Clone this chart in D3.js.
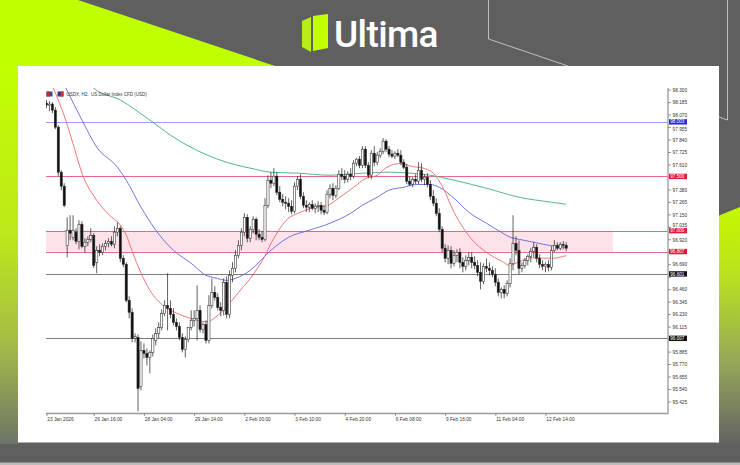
<!DOCTYPE html>
<html><head><meta charset="utf-8">
<script src="https://cdn.jsdelivr.net/npm/d3@7"></script>
<style>body{margin:0;background:#5f5f5f;overflow:hidden}svg{display:block}</style>
</head><body>
<svg id="c" width="740" height="465"></svg>
<script>
// ---------- DATA (USDX H2 candles) ----------
const opens = [98.176,98.157,98.167,98.111,97.954,97.539,97.410,96.865,97.004,96.939,96.986,96.902,97.059,96.856,96.893,96.920,96.957,96.708,96.819,96.800,96.856,96.883,96.902,96.874,96.986,97.022,96.745,96.690,96.357,96.247,96.007,96.016,95.564,95.896,95.868,95.831,95.877,95.988,96.053,96.108,96.237,96.311,96.284,96.228,96.154,96.117,96.016,95.905,95.997,96.108,96.173,96.191,96.265,96.090,96.136,95.988,96.311,96.431,96.385,96.293,96.265,96.524,96.228,96.588,96.653,96.773,96.865,96.986,97.123,96.930,97.013,97.105,96.967,96.939,96.920,97.234,97.465,97.437,97.502,97.354,97.289,97.262,97.253,97.225,97.179,97.410,97.474,97.317,97.234,97.216,97.243,97.206,97.225,97.234,97.188,97.170,97.336,97.391,97.326,97.391,97.520,97.502,97.474,97.520,97.502,97.622,97.659,97.603,97.751,97.603,97.511,97.714,97.631,97.696,97.732,97.825,97.751,97.705,97.687,97.714,97.696,97.631,97.585,97.456,97.428,97.474,97.456,97.557,97.474,97.493,97.428,97.317,97.253,97.160,97.013,96.838,96.745,96.819,96.699,96.773,96.801,96.708,96.671,96.727,96.754,96.708,96.680,96.616,96.533,96.671,96.653,96.634,96.597,96.524,96.431,96.459,96.422,96.514,96.699,96.883,96.819,96.653,96.680,96.727,96.764,96.810,96.847,96.745,96.690,96.671,96.690,96.662,96.819,96.865,96.838,96.874,96.865];
const highs = [98.204,98.194,98.185,98.139,97.973,97.557,97.437,97.123,97.142,97.142,97.022,97.096,97.087,96.930,96.948,97.022,96.976,96.856,96.874,96.883,96.911,96.930,96.948,97.040,97.077,97.040,96.773,96.708,96.394,96.284,96.053,96.044,95.979,95.961,95.914,95.896,96.043,96.099,96.154,96.274,96.357,96.607,96.357,96.284,96.191,96.154,96.053,96.025,96.108,96.265,96.265,96.495,96.311,96.154,96.173,96.404,96.560,96.487,96.422,96.339,96.560,96.579,96.634,96.708,96.819,96.911,97.022,97.161,97.151,97.040,97.133,97.123,97.013,96.995,97.299,97.511,97.539,97.576,97.539,97.410,97.336,97.317,97.299,97.281,97.446,97.502,97.520,97.354,97.281,97.262,97.281,97.253,97.271,97.262,97.234,97.373,97.428,97.437,97.418,97.557,97.576,97.557,97.548,97.576,97.650,97.668,97.687,97.779,97.779,97.631,97.742,97.779,97.723,97.760,97.853,97.843,97.779,97.742,97.732,97.751,97.742,97.659,97.613,97.502,97.493,97.520,97.631,97.622,97.520,97.530,97.465,97.373,97.299,97.206,97.040,96.875,96.865,96.856,96.819,96.828,96.838,96.754,96.773,96.801,96.801,96.764,96.727,96.708,96.699,96.745,96.708,96.671,96.653,96.560,96.477,96.496,96.542,96.745,97.142,96.948,96.911,96.708,96.745,96.782,96.838,96.893,96.874,96.782,96.727,96.708,96.727,96.856,96.911,96.893,96.893,96.902,96.893];
const lows = [98.130,98.102,98.083,97.935,97.502,97.373,97.216,96.754,96.911,96.911,96.875,96.828,96.838,96.800,96.856,96.893,96.653,96.607,96.764,96.773,96.819,96.847,96.856,96.838,96.948,96.708,96.662,96.339,96.191,95.970,95.970,95.333,95.527,95.822,95.757,95.684,95.840,95.942,96.007,96.080,96.210,96.080,96.191,96.127,96.080,95.988,95.877,95.831,95.970,96.080,96.117,95.988,96.062,96.053,95.960,95.960,96.284,96.357,96.265,96.210,96.219,96.191,96.191,96.524,96.616,96.745,96.819,96.948,96.893,96.893,96.976,96.911,96.911,96.893,96.902,97.206,97.391,97.410,97.326,97.262,97.225,97.197,97.170,97.151,97.160,97.373,97.289,97.206,97.170,97.170,97.188,97.160,97.170,97.151,97.142,97.151,97.299,97.281,97.299,97.373,97.465,97.437,97.446,97.465,97.483,97.594,97.576,97.576,97.576,97.483,97.474,97.594,97.603,97.668,97.705,97.723,97.677,97.668,97.659,97.677,97.603,97.567,97.428,97.410,97.400,97.428,97.428,97.446,97.419,97.400,97.281,97.225,97.133,96.986,96.801,96.708,96.690,96.653,96.671,96.708,96.653,96.616,96.634,96.680,96.653,96.644,96.579,96.459,96.505,96.616,96.588,96.570,96.487,96.394,96.376,96.376,96.394,96.477,96.634,96.773,96.597,96.616,96.653,96.680,96.708,96.754,96.708,96.653,96.634,96.616,96.625,96.634,96.801,96.819,96.819,96.828,96.810];
const closes = [98.157,98.167,98.111,97.954,97.539,97.410,97.234,97.004,96.976,97.004,96.902,97.059,96.856,96.893,96.920,96.957,96.680,96.819,96.800,96.856,96.883,96.902,96.874,96.986,97.022,96.745,96.690,96.357,96.247,96.007,96.025,95.545,95.896,95.868,95.831,95.877,96.007,96.053,96.108,96.237,96.311,96.284,96.228,96.154,96.117,96.016,95.905,95.997,96.108,96.173,96.191,96.265,96.090,96.136,95.988,96.311,96.431,96.385,96.293,96.265,96.524,96.228,96.588,96.653,96.773,96.865,96.986,97.123,96.930,97.013,97.105,96.967,96.939,96.920,97.234,97.465,97.437,97.502,97.354,97.289,97.262,97.253,97.225,97.179,97.410,97.474,97.317,97.234,97.216,97.243,97.206,97.225,97.234,97.188,97.170,97.336,97.391,97.326,97.391,97.520,97.502,97.474,97.520,97.502,97.622,97.659,97.603,97.751,97.603,97.511,97.714,97.631,97.696,97.732,97.825,97.751,97.705,97.687,97.714,97.696,97.631,97.585,97.456,97.428,97.474,97.456,97.557,97.474,97.493,97.428,97.317,97.253,97.160,97.013,96.838,96.745,96.819,96.699,96.773,96.801,96.708,96.671,96.727,96.754,96.708,96.680,96.616,96.533,96.671,96.653,96.634,96.597,96.524,96.431,96.459,96.422,96.514,96.699,96.883,96.819,96.653,96.680,96.727,96.764,96.810,96.847,96.745,96.690,96.671,96.690,96.662,96.819,96.865,96.838,96.874,96.865,96.838];

// moving averages as [bar index, value]
const maFast = [[1,98.40],[3,98.27],[6,98.06],[9,97.80],[12,97.53],[17,97.28],[21,97.15],[25,97.05],[27,96.96],[29,96.81],[32,96.61],[35,96.45],[40,96.30],[44,96.24],[49,96.19],[54,96.16],[60,96.27],[65,96.43],[69,96.56],[73,96.72],[77,96.93],[81,97.09],[86,97.17],[90,97.21],[95,97.23],[99,97.30],[104,97.40],[108,97.48],[112,97.51],[115,97.58],[120,97.62],[124,97.59],[127,97.58],[131,97.53],[134,97.41],[138,97.17],[141,97.03],[144,96.92],[149,96.80],[154,96.72],[157,96.68],[159,96.70],[164,96.75],[171,96.745],[176,96.77]];
const maMid = [[5,98.40],[7,98.29],[12,98.02],[17,97.77],[24,97.585],[27,97.465],[32,97.216],[37,97.004],[43,96.819],[49,96.699],[54,96.588],[57,96.565],[61,96.542],[64,96.560],[69,96.634],[76,96.819],[82,96.939],[89,97.004],[96,97.068],[103,97.160],[107,97.234],[112,97.308],[116,97.373],[121,97.400],[125,97.425],[130,97.425],[133,97.400],[138,97.299],[143,97.170],[149,97.068],[154,96.985],[157,96.939],[160,96.920],[165,96.893],[170,96.865],[176,96.847]];
const maSlow = [[14,98.37],[16,98.315],[25,98.204],[35,98.019],[43,97.862],[53,97.714],[62,97.622],[69,97.576],[76,97.539],[85,97.530],[96,97.511],[107,97.530],[116,97.539],[123,97.530],[130,97.511],[138,97.465],[149,97.391],[160,97.308],[171,97.262],[176,97.243]];

// horizontal levels
const levelValues = [98.003, 97.500, 97.000, 96.807, 96.601, 96.007];
const levelLabels = ["98.003","97.500","97.000","96.807","96.601","96.007"];
const bandLevels = [97.000, 96.807];

// axes
const timeTickIdx = [0,16,33,50,67,84,101,118,135,152,169];
const timeTickLabels = ["23 Jan 2026","26 Jan 16:00","28 Jan 04:00","29 Jan 14:00","2 Feb 00:00","3 Feb 10:00","4 Feb 20:00","6 Feb 08:00","9 Feb 16:00","11 Feb 04:00","12 Feb 14:00"];
const priceTickLabels = ["95.425","95.540","95.655","95.770","95.885","96.000","96.115","96.230","96.345","96.460","96.575","96.690","96.805","96.920","97.035","97.150","97.265","97.380","97.495","97.610","97.725","97.840","97.955","98.070","98.185","98.300"];
const titleText = "USDX, H2:  US Dollar Index CFD (USD)";
const brandText = "Ultima";

// ---------- DRAW ----------
const svg = d3.select("#c");
const defs = svg.append("defs");
function vgrad(id, stops){
  const g = defs.append("linearGradient").attr("id",id).attr("x1",0).attr("y1",0).attr("x2",0).attr("y2",1);
  stops.forEach(s=>g.append("stop").attr("offset",s[0]).attr("stop-color",s[1]));
}
vgrad("gl",[[0,"#c2ff00"],[0.45,"#bde81a"],[0.75,"#a2b94a"],[1,"#6d7466"]]);
vgrad("gr",[[0,"#c6f800"],[0.3,"#b9e020"],[0.65,"#95a858"],[1,"#636363"]]);

svg.append("rect").attr("width",740).attr("height",465).attr("fill","#5f5f5f");
svg.append("polygon").attr("points","0,0 78,0 290,71 0,71").attr("fill","#c0ff00");
svg.append("rect").attr("x",0).attr("y",66).attr("width",19).attr("height",378).attr("fill","url(#gl)");
svg.append("polygon").attr("points","718,216 740,207 740,444 718,444").attr("fill","url(#gr)");
svg.append("path").attr("d","M488.5,0V39L568,66M727.5,0V120L719,117").attr("fill","none").attr("stroke","#d8d8d8").attr("stroke-width",0.8);
svg.append("rect").attr("x",0).attr("y",462.5).attr("width",740).attr("height",2.5).attr("fill","#bcbcbc");

// logo
const logo = svg.append("g");
logo.append("polygon").attr("points","302,21 311,17 311,52 302,47").attr("fill","#b8ef10");
logo.append("polygon").attr("points","313,16 328,14 328,48 313,51").attr("fill","#c4ff00");
logo.append("text").attr("x",334).attr("y",47).text(brandText)
  .attr("font-family","Roboto, 'Open Sans', sans-serif").attr("font-weight",500)
  .attr("font-size",37).attr("letter-spacing",-0.6).attr("fill","#ffffff");

// panel
svg.append("rect").attr("x",18).attr("y",66).attr("width",701).attr("height",376.5).attr("fill","#ffffff");

const x = d3.scaleLinear().domain([0,176]).range([46.5,566.2]);
const y = d3.scaleLinear().domain([95.314,98.316]).range([413.5,87.9]);
const L = 46, R = 668, T = 88, B = 413.5;

defs.append("clipPath").attr("id","plot").append("rect").attr("x",L).attr("y",T).attr("width",R-L).attr("height",B-T);
const chart = svg.append("g");
const plot = chart.append("g").attr("clip-path","url(#plot)");

// band
plot.append("rect").attr("x",L).attr("width",613-L)
  .attr("y",y(bandLevels[0])).attr("height",y(bandLevels[1])-y(bandLevels[0]))
  .attr("fill","#fde2ea");

// level lines
const lineColor = ["#9393ee","#e2587a","#e2587a","#e2587a","#6e6e6e","#6e6e6e"];
const boxColor = ["#2a2ad8","#e8163e","#e8163e","#e8163e","#111111","#111111"];
plot.selectAll("line.lvl").data(levelValues).join("line").attr("class","lvl")
  .attr("x1",L).attr("x2",R).attr("y1",d=>Math.round(y(d))+0.5).attr("y2",d=>Math.round(y(d))+0.5)
  .attr("stroke",(d,i)=>lineColor[i]).attr("stroke-width",0.9);

// moving averages
const ma = d3.line().x(d=>x(d[0])).y(d=>y(d[1])).curve(d3.curveMonotoneX);
plot.append("path").attr("d",ma(maSlow)).attr("fill","none").attr("stroke","#3fae7c").attr("stroke-width",0.9);
plot.append("path").attr("d",ma(maMid)).attr("fill","none").attr("stroke","#6464dc").attr("stroke-width",0.9);
plot.append("path").attr("d",ma(maFast)).attr("fill","none").attr("stroke","#f06868").attr("stroke-width",0.9);

// candles
const bars = opens.map((o,i)=>({i,o,h:highs[i],l:lows[i],c:closes[i]}));
plot.selectAll("line.wick").data(bars).join("line").attr("class","wick")
  .attr("x1",d=>x(d.i)).attr("x2",d=>x(d.i)).attr("y1",d=>y(d.h)).attr("y2",d=>y(d.l))
  .attr("stroke","#1a1a1a").attr("stroke-width",0.7);
plot.selectAll("rect.body").data(bars).join("rect").attr("class","body")
  .attr("x",d=>x(d.i)-1.1).attr("width",2.2)
  .attr("y",d=>y(Math.max(d.o,d.c)))
  .attr("height",d=>Math.max(0.6,Math.abs(y(d.o)-y(d.c))))
  .attr("fill",d=>d.c>=d.o?"#ffffff":"#111111")
  .attr("stroke","#2a2a2a").attr("stroke-width",0.55);

// right price axis (labels hidden behind a level box are not drawn, as in the terminal)
const gap = v => d3.min(levelValues, l => Math.abs(y(l)-y(v)));
const nearest = v => levelValues.reduce((a,l)=>Math.abs(y(l)-y(v))<Math.abs(y(a)-y(v))?l:a);
const yAxis = d3.axisRight(y).tickValues(priceTickLabels.map(Number))
  .tickFormat((d,i)=>gap(d) < 3 ? "" : priceTickLabels[i]).tickSize(3).tickPadding(1.5);
const ya = chart.append("g").attr("transform",`translate(${R},0)`).call(yAxis);
ya.select(".domain").attr("d",`M0,${T}V${B}`).attr("stroke","#9a9a9a").attr("stroke-width",1.3);
ya.selectAll(".tick line").attr("stroke","#555").attr("stroke-width",0.6);
ya.selectAll(".tick text").attr("font-family","'Liberation Sans', Arial, sans-serif").attr("font-size",4.8).attr("fill","#333")
  .attr("dy", d => { const g = gap(d); if (g >= 3 && g < 5.5) { return (y(d) < y(nearest(d)) ? -1.6 : 1.6) + 1.7; } return 1.7; });

// bottom time axis
const xAxis = d3.axisBottom(x).tickValues(timeTickIdx)
  .tickFormat((d,i)=>timeTickLabels[i]).tickSize(2.5).tickPadding(1.5);
const xa = chart.append("g").attr("transform",`translate(0,${B})`).call(xAxis);
xa.select(".domain").attr("d",`M${L},0H${R+0.6}`).attr("stroke","#9a9a9a").attr("stroke-width",1.5);
xa.selectAll(".tick line").attr("stroke","#555").attr("stroke-width",0.6);
xa.selectAll(".tick text").attr("text-anchor","start").attr("x",0.3)
  .attr("font-family","'Liberation Sans', Arial, sans-serif").attr("font-size",4.8).attr("fill","#333");

// level price boxes
const lb = chart.selectAll("g.lb").data(levelValues).join("g").attr("class","lb")
  .attr("transform",d=>`translate(${R+1},${y(d)})`);
lb.append("rect").attr("x",0).attr("y",-2.7).attr("width",18).attr("height",5.4).attr("fill",(d,i)=>boxColor[i]);
lb.append("text").attr("x",1.3).attr("y",1.6).text((d,i)=>levelLabels[i])
  .attr("font-family","'Liberation Sans', Arial, sans-serif").attr("font-size",4.6).attr("fill","#fff");

// title + icons
chart.append("rect").attr("x",46.5).attr("y",91.5).attr("width",6).attr("height",5).attr("fill","#3a4a9a");
chart.append("rect").attr("x",46.5).attr("y",91.5).attr("width",3).attr("height",5).attr("fill","#c03030");
chart.append("rect").attr("x",57.5).attr("y",91.5).attr("width",6).attr("height",5).attr("fill","#2a3a9a");
chart.append("rect").attr("x",60.5).attr("y",91.5).attr("width",3).attr("height",5).attr("fill","#d03030");
chart.append("text").attr("x",66.5).attr("y",96).text(titleText)
  .attr("font-family","'Liberation Sans', Arial, sans-serif").attr("font-size",4.5).attr("fill","#333").style("white-space","pre");
</script>
</body></html>
